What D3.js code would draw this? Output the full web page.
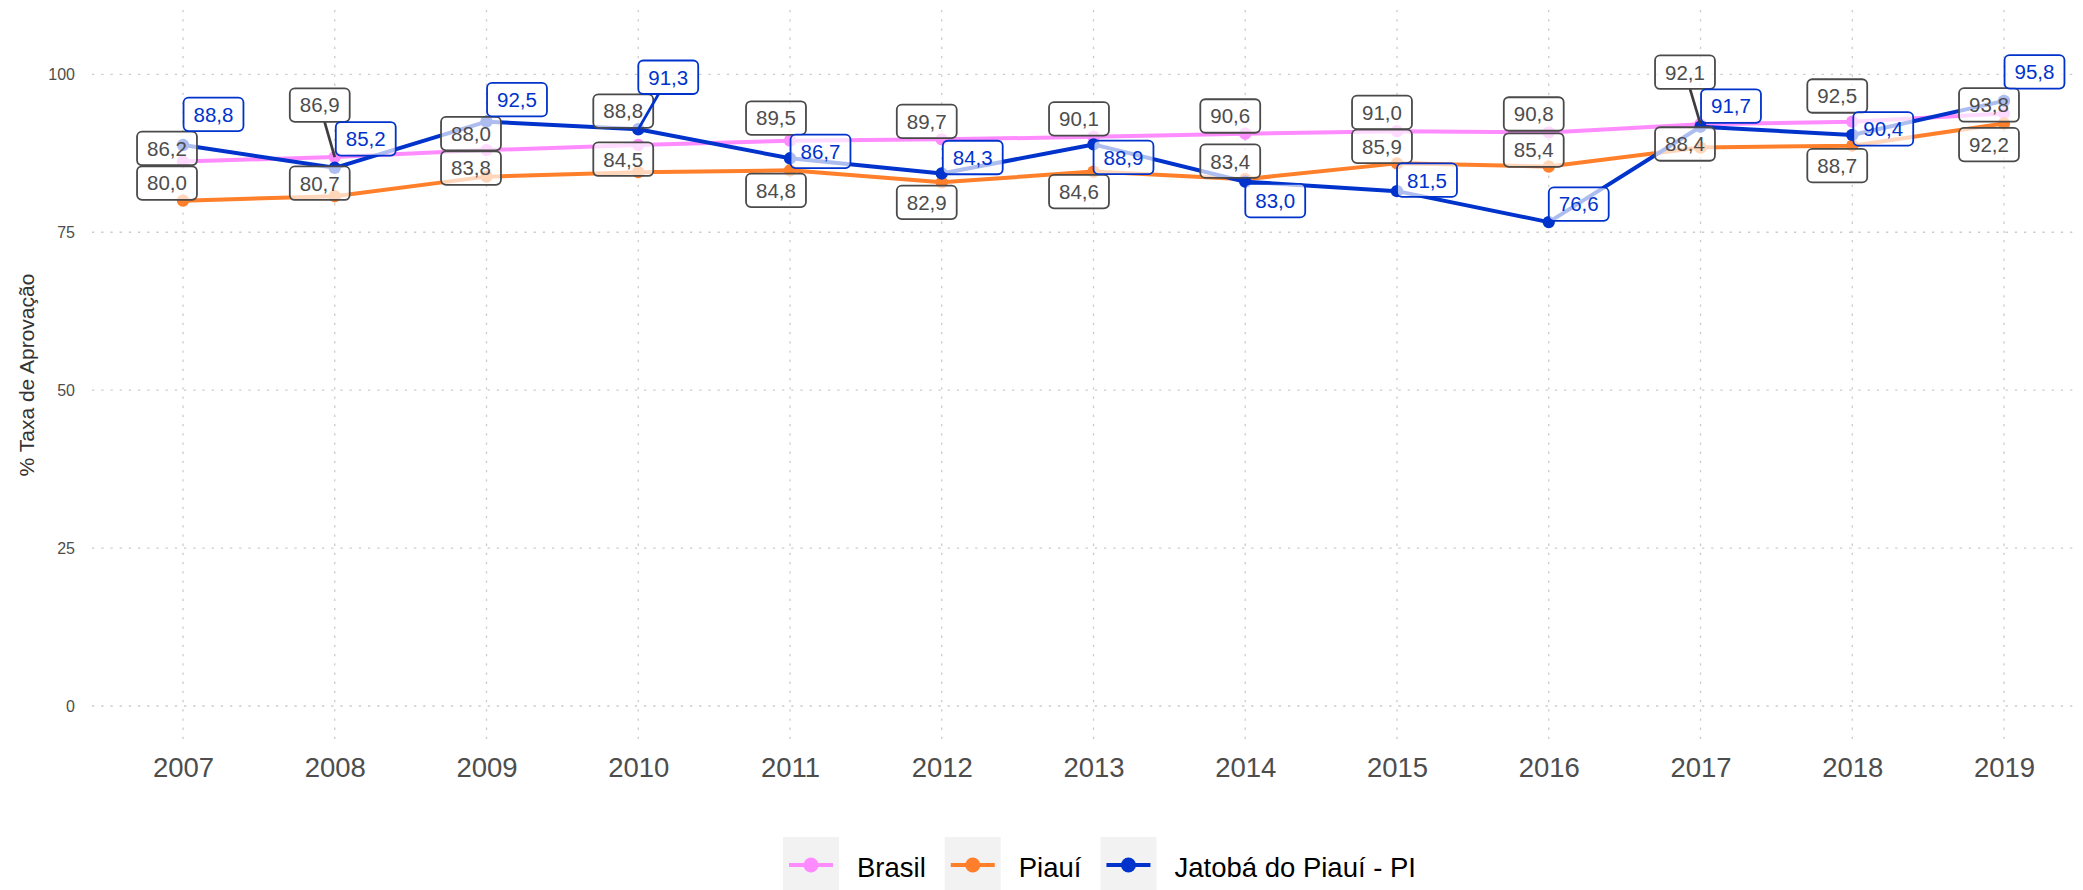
<!DOCTYPE html>
<html>
<head>
<meta charset="utf-8">
<script src="https://cdn.jsdelivr.net/npm/d3@7"></script>
<style>
  html, body { margin: 0; padding: 0; background: #ffffff; }
  svg { display: block; font-family: "Liberation Sans", Arial, Helvetica, sans-serif; }
</style>
</head>
<body>
<svg id="chart" width="2083" height="890"></svg>
<script>
// Approval rate (% Taxa de Aprovação), 2007–2019
const years = [2007, 2008, 2009, 2010, 2011, 2012, 2013, 2014, 2015, 2016, 2017, 2018, 2019];
const brasil = [86.2, 86.9, 88.0, 88.8, 89.5, 89.7, 90.1, 90.6, 91.0, 90.8, 92.1, 92.5, 93.8];
const piaui  = [80.0, 80.7, 83.8, 84.5, 84.8, 82.9, 84.6, 83.4, 85.9, 85.4, 88.4, 88.7, 92.2];
const jatoba = [88.8, 85.2, 92.5, 91.3, 86.7, 84.3, 88.9, 83.0, 81.5, 76.6, 91.7, 90.4, 95.8];
const yTicks = [0, 25, 50, 75, 100];
const seriesNames = ["Brasil", "Piauí", "Jatobá do Piauí - PI"];
const seriesColors = ["#ff8cff", "#ff7f2a", "#0033cc"];

// Label box offsets (box centre relative to its point, px), repelled by hand
const brasilLabelOffsets = [[-16,-13],[-15,-52],[-15.5,-16.5],[-15,-34],[-14,-22.6],[-15,-18],[-14.5,-18],[-15,-17.7],[-15,-18.7],[-15,-18.4],[-15.5,-52],[-15,-25.7],[-15,-8.5]];
const piauiLabelOffsets  = [[-16,-17.6],[-15,-13],[-15.5,-8.6],[-15,-13],[-14,20],[-15,20],[-14.5,20],[-15,-18],[-15,-17],[-15,-16.5],[-15.5,-3.6],[-15,20],[-15,21]];
const jatobaLabelOffsets = [[30.5,-30.7],[31,-29],[30.5,-22],[30,-52],[30.5,-7],[31,-16],[30,13],[30,19],[30,-11],[30,-18],[30.5,-20.7],[31,-6],[30.5,-29]];

const seriesValues = [brasil, piaui, jatoba];
const labelOffsets = [brasilLabelOffsets, piauiLabelOffsets, jatobaLabelOffsets];
const labelInk = ["#4d4d4d", "#4d4d4d", "#0033cc"];
const labelEdge = ["#4a4a4a", "#4a4a4a", "#0033cc"];

const series = seriesNames.map((name, i) => ({
  name,
  color: seriesColors[i],
  ink: labelInk[i],
  edge: labelEdge[i],
  values: years.map((yr, j) => ({ year: yr, value: seriesValues[i][j], off: labelOffsets[i][j] }))
}));

const svg = d3.select("#chart");

// Panel geometry
const panel = { left: 92, right: 2078, top: 10, bottom: 739 };
const x = d3.scaleLinear().domain([2007, 2019]).range([183, 2004]);
const y = d3.scaleLinear().domain([0, 100]).range([706, 74.3]);

const ptBR = d3.formatLocale({ decimal: ",", thousands: ".", grouping: [3], currency: ["R$", ""] });
const fmt = ptBR.format(".1f");

// Grid (dotted)
const grid = svg.append("g").attr("class", "grid")
  .attr("stroke", "#cbcbcb").attr("stroke-width", 1.3).attr("stroke-dasharray", "2.3,6.9");
grid.selectAll("line.h").data(yTicks).join("line").attr("class", "h")
  .attr("x1", panel.left).attr("x2", panel.right)
  .attr("y1", d => y(d)).attr("y2", d => y(d));
grid.selectAll("line.v").data(years).join("line").attr("class", "v")
  .attr("x1", d => x(d)).attr("x2", d => x(d))
  .attr("y1", panel.top).attr("y2", panel.bottom);

// Y axis
const yAxis = d3.axisLeft(y).tickValues(yTicks).tickSize(0).tickPadding(0).tickFormat(d3.format("d"));
const gy = svg.append("g").attr("transform", "translate(75,0)").call(yAxis);
gy.select(".domain").remove();
gy.selectAll("text").attr("font-size", 16).attr("fill", "#4d4d4d")
  .attr("font-family", "Liberation Sans, Arial, sans-serif").attr("dy", "0.35em");

// X axis
const xAxis = d3.axisBottom(x).tickValues(years).tickSize(0).tickPadding(0).tickFormat(d3.format("d"));
const gx = svg.append("g").attr("transform", "translate(0,757)").call(xAxis);
gx.select(".domain").remove();
gx.selectAll("text").attr("font-size", 27.5).attr("fill", "#4d4d4d")
  .attr("font-family", "Liberation Sans, Arial, sans-serif").attr("dy", "0.72em");

// Y title
svg.append("text")
  .attr("transform", "translate(33.5,375) rotate(-90)")
  .attr("text-anchor", "middle")
  .attr("font-size", 21).attr("fill", "#333333")
  .text("% Taxa de Aprovação");

// Lines and points
const line = d3.line().x(d => x(d.year)).y(d => y(d.value));
const lines = svg.append("g");
series.forEach(s => {
  lines.append("path").datum(s.values)
    .attr("fill", "none").attr("stroke", s.color).attr("stroke-width", 4)
    .attr("stroke-linejoin", "round").attr("d", line);
  lines.append("g").selectAll("circle").data(s.values).join("circle")
    .attr("cx", d => x(d.year)).attr("cy", d => y(d.value)).attr("r", 6.2)
    .attr("fill", s.color);
});

// Value labels
const labels = svg.append("g");
const boxH = 33.5, padX = 10;
series.forEach(s => {
  s.values.forEach(d => {
    const px = x(d.year), py = y(d.value);
    const cx = px + d.off[0], cy = py + d.off[1];
    const g = labels.append("g");
    const t = g.append("text")
      .attr("x", cx).attr("y", cy).attr("dy", "0.36em")
      .attr("text-anchor", "middle").attr("font-size", 20.5).attr("fill", s.ink)
      .text(fmt(d.value));
    const w = t.node().getComputedTextLength() + 2 * padX;
    const x0 = cx - w / 2, y0 = cy - boxH / 2;
    // leader segment from the box edge to the point when the label sits far away
    const dx = px - cx, dy = py - cy;
    const tx = dx !== 0 ? (w / 2) / Math.abs(dx) : Infinity;
    const ty = dy !== 0 ? (boxH / 2) / Math.abs(dy) : Infinity;
    const tEdge = Math.min(tx, ty);
    if (tEdge < 1) {
      const ex = cx + dx * tEdge, ey = cy + dy * tEdge;
      const len = Math.hypot(px - ex, py - ey);
      if (len > 25) {
        g.insert("line", "text")
          .attr("x1", ex).attr("y1", ey).attr("x2", px).attr("y2", py)
          .attr("stroke", s.edge === "#0033cc" ? "#0033cc" : "#3d3d3d").attr("stroke-width", 2.7);
      }
    }
    g.insert("rect", "text")
      .attr("x", x0).attr("y", y0).attr("width", w).attr("height", boxH)
      .attr("rx", 5).attr("ry", 5)
      .attr("fill", "#ffffff").attr("fill-opacity", 0.68)
      .attr("stroke", s.edge).attr("stroke-width", 1.8);
  });
});

// Legend
const legend = svg.append("g");
let lx = 783;
const keyW = 56, keyH = 53, keyTop = 837;
series.forEach(s => {
  const k = legend.append("g");
  k.append("rect").attr("x", lx).attr("y", keyTop).attr("width", keyW).attr("height", keyH).attr("fill", "#f2f2f2");
  k.append("line").attr("x1", lx + 6).attr("x2", lx + keyW - 6)
    .attr("y1", keyTop + 28).attr("y2", keyTop + 28)
    .attr("stroke", s.color).attr("stroke-width", 4);
  k.append("circle").attr("cx", lx + keyW / 2).attr("cy", keyTop + 28).attr("r", 7.5).attr("fill", s.color);
  const t = k.append("text").attr("x", lx + keyW + 18).attr("y", 876.5)
    .attr("font-size", 27.5).attr("fill", "#000000").text(s.name);
  lx = lx + keyW + 18 + t.node().getComputedTextLength() + 19;
});
</script>
</body>
</html>
